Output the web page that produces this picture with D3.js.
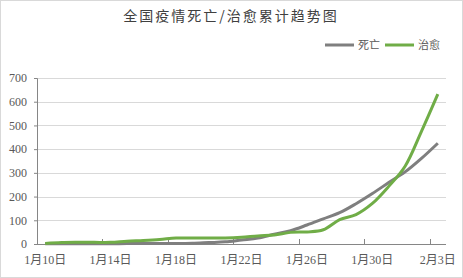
<!DOCTYPE html>
<html>
<head>
<meta charset="utf-8">
<script src="https://cdn.jsdelivr.net/npm/d3@7"></script>
<style>
  body { margin: 0; background: #fff; }
  svg { display: block; }
</style>
</head>
<body>
<div id="chart"></div>
<script>
var dates = ["1月10日","1月11日","1月12日","1月13日","1月14日","1月15日","1月16日","1月17日","1月18日","1月19日","1月20日","1月21日","1月22日","1月23日","1月24日","1月25日","1月26日","1月27日","1月28日","1月29日","1月30日","1月31日","2月1日","2月2日","2月3日"];
var deaths = [1,1,1,1,1,2,2,2,2,3,6,9,17,25,41,56,80,106,132,170,213,259,304,361,425];
var cured = [2,6,7,7,7,12,15,19,25,25,25,25,28,34,38,49,51,60,103,124,171,243,328,475,632];
var yTicks = [0,100,200,300,400,500,600,700];
var seriesNames = ["死亡","治愈"];
var seriesColors = ["#7f7f7f","#70ad47"];

var W = 463, H = 278;
var margin = {top: 78, right: 17, bottom: 34, left: 37};
var width = W - margin.left - margin.right,
    height = H - margin.top - margin.bottom;

var root = d3.select("#chart")
  .append("svg")
  .attr("width", W)
  .attr("height", H);

// outer frame
root.append("rect")
  .attr("x", 0.5).attr("y", 0.5)
  .attr("width", W - 1).attr("height", H - 1)
  .attr("fill", "#fff")
  .attr("stroke", "#d9d9d9");

// title
root.append("text")
  .attr("x", 231)
  .attr("y", 21)
  .attr("text-anchor", "middle")
  .style("font-family", "'Noto Sans CJK SC'")
  .style("font-size", "14px")
  .style("letter-spacing", "2px")
  .style("fill", "#404040")
  .text("全国疫情死亡/治愈累计趋势图");

var svg = root.append("g")
  .attr("transform", "translate(" + margin.left + "," + margin.top + ")");

var x = d3.scaleBand()
  .domain(dates)
  .range([0, width]);

var y = d3.scaleLinear()
  .domain([0, 700])
  .range([height, 0]);

// gridlines
svg.append("g")
  .selectAll("line")
  .data(yTicks.slice(1))
  .enter()
  .append("line")
  .attr("x1", 0)
  .attr("x2", width)
  .attr("y1", function (d) { return Math.round(y(d)) + 0.5; })
  .attr("y2", function (d) { return Math.round(y(d)) + 0.5; })
  .attr("stroke", "#d9d9d9");

// y axis
var yAxis = svg.append("g")
  .call(d3.axisLeft(y).tickValues(yTicks).tickSize(3).tickPadding(7));
yAxis.select(".domain").attr("stroke", "#868686");
yAxis.selectAll(".tick line").attr("stroke", "#868686");
yAxis.selectAll("text")
  .style("font-family", "'Liberation Serif'")
  .style("font-size", "12px")
  .style("fill", "#595959");

// x axis: ticks at category boundaries every 4 days, labels at category centers
var labelDates = dates.filter(function (d, i) { return i % 4 === 0; });
var xg = svg.append("g")
  .attr("transform", "translate(0," + height + ")");
xg.append("line")
  .attr("x1", 0).attr("x2", width)
  .attr("y1", 0.5).attr("y2", 0.5)
  .attr("stroke", "#868686");
xg.selectAll(".xt")
  .data(labelDates)
  .enter()
  .append("line")
  .attr("class", "xt")
  .attr("x1", function (d) { return Math.round(x(d)) + 0.5; })
  .attr("x2", function (d) { return Math.round(x(d)) + 0.5; })
  .attr("y1", 0)
  .attr("y2", -5)
  .attr("stroke", "#868686");
xg.selectAll(".xl")
  .data(labelDates)
  .enter()
  .append("text")
  .attr("class", "xl")
  .attr("x", function (d) { return x(d) + x.bandwidth() / 2; })
  .attr("y", 20)
  .attr("text-anchor", "middle")
  .style("font-family", "'Liberation Serif','Noto Sans CJK SC'")
  .style("font-size", "12px")
  .style("fill", "#595959")
  .text(function (d) { return d; });

// lines
var line = d3.line()
  .x(function (d, i) { return x(dates[i]) + x.bandwidth() / 2; })
  .y(function (d) { return y(d); })
  .curve(d3.curveCatmullRom);

[deaths, cured].forEach(function (s, k) {
  svg.append("path")
    .datum(s)
    .attr("d", line)
    .attr("fill", "none")
    .attr("stroke", seriesColors[k])
    .attr("stroke-width", 3)
    .attr("stroke-linejoin", "round");
});

// legend
var legend = root.append("g").attr("transform", "translate(325,45)");
var legX = [0, 60];
seriesNames.forEach(function (n, k) {
  var g = legend.append("g").attr("transform", "translate(" + legX[k] + ",0)");
  g.append("line")
    .attr("x1", 0).attr("x2", 29)
    .attr("stroke", seriesColors[k])
    .attr("stroke-width", 3);
  g.append("text")
    .attr("x", 33)
    .attr("y", 4)
    .style("font-family", "'Noto Sans CJK SC'")
    .style("font-size", "11px")
    .style("fill", "#595959")
    .text(n);
});
</script>
</body>
</html>
